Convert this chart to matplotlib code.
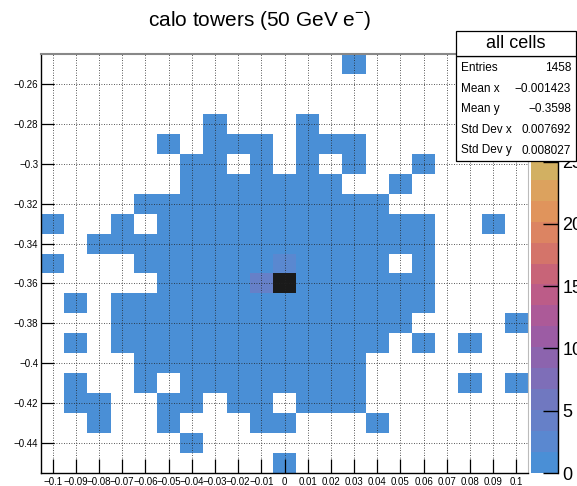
import numpy as np
import matplotlib
matplotlib.use("Agg")
import matplotlib.pyplot as plt
from matplotlib.colors import ListedColormap, BoundaryNorm
from matplotlib.patches import Rectangle

plt.rcParams['font.family'] = ['Liberation Sans', 'DejaVu Sans']
plt.rcParams['mathtext.fontset'] = 'custom'
plt.rcParams['mathtext.rm'] = 'Liberation Sans'

# tower centres (0.01 x 0.01 cells)
x_centers = np.round(np.arange(-0.10, 0.1001, 0.01), 2)
y_centers = np.round(np.arange(-0.25, -0.4501, -0.01), 2)

# hit towers, one string per row from y=-0.25 (top) down to y=-0.45,
# column 0 is x=-0.10
tower_rows = [
    ".............#.......",
    ".....................",
    ".....................",
    ".......#...#.........",
    ".....#.###.###.......",
    "......##.#.#.#..#....",
    "......#######..#.....",
    "....###########......",
    "#..#.############..#.",
    "..###############....",
    "#...###########.#....",
    ".....############....",
    ".#.##############....",
    "...#############....#",
    ".#.############.#.#..",
    "....##########.......",
    ".#..#.########....#.#",
    ".##..##.##.###.......",
    "..#..#...##...#......",
    "......#..............",
    "..........#..........",
]
hit_value = 1.0

# the few towers with larger deposits
hot_x = [0.00, 0.00, -0.01]
hot_y = [-0.36, -0.35, -0.36]
hot_val = [33.6, 3.0, 4.0]

z_max = 33.65
cbar_ticks = [0, 5, 10, 15, 20, 25]

stat_names = ["Entries", "Mean x", "Mean y", "Std Dev x", "Std Dev y"]
stat_values = ["1458", "\u22120.001423", "\u22120.3598", "0.007692", "0.008027"]

# 20 colour bands of the palette, bottom to top
band_colors = [
    "#4a8fd6", "#5a88d0", "#6680c8", "#7078c0", "#7e6eb8",
    "#8c64ae", "#9c5ca4", "#ac5a98", "#bc5c88", "#c86478",
    "#d4746a", "#dc8462", "#e0945c", "#dca25e", "#d2b062",
    "#c8ba66", "#b8b86a", "#a0a868", "#788058", "#1a1a1a",
]

# ---- build the histogram ----
z = np.array([[hit_value if c == "#" else 0.0 for c in row] for row in tower_rows])
for hx, hy, hv in zip(hot_x, hot_y, hot_val):
    i = int(np.argmin(np.abs(x_centers - hx)))
    j = int(np.argmin(np.abs(y_centers - hy)))
    z[j, i] = hv
z = np.ma.masked_equal(z, 0)

x_edges = np.append(x_centers - 0.005, x_centers[-1] + 0.005)
y_edges = np.append(y_centers + 0.005, y_centers[-1] - 0.005)

levels = np.linspace(0, z_max, len(band_colors) + 1)
cmap = ListedColormap(band_colors)
norm = BoundaryNorm(levels, cmap.N, clip=True)

W, H = 577, 486
fig = plt.figure(figsize=(W / 100, H / 100), dpi=100)
ax = fig.add_axes([41 / W, 13 / H, 487 / W, 419 / H])
cax = fig.add_axes([531 / W, 13 / H, 27 / W, 419 / H])

ax.pcolormesh(x_edges, y_edges, z, cmap=cmap, norm=norm, zorder=1)
ax.set_xlim(x_edges[0], x_edges[-1])
ax.set_ylim(y_edges[-1], y_edges[0])

ax.set_xticks(x_centers)
ax.set_xticklabels([f"{v + 0.0:g}".replace("-", "\u2212") for v in x_centers])
y_ticks = np.round(np.arange(-0.26, -0.4401, -0.02), 2)
ax.set_yticks(y_ticks)
ax.set_yticklabels([f"{v:g}".replace("-", "\u2212") for v in y_ticks])
ax.tick_params(axis='x', direction='in', length=10, width=0.9, labelsize=7, pad=3)
ax.tick_params(axis='y', direction='in', length=9, width=0.9, labelsize=7, pad=2)

ax.set_axisbelow(False)
ax.grid(True, color='#222222', linestyle=(0, (1, 2)), linewidth=0.6)
for side in ['left', 'bottom']:
    ax.spines[side].set_color('black')
    ax.spines[side].set_linewidth(1.0)
ax.spines['top'].set_color('#888888')
ax.spines['top'].set_linewidth(1.5)
ax.spines['right'].set_color('#bbbbbb')
ax.spines['right'].set_linewidth(0.8)

# ---- colour scale ----
band_mid = (levels[:-1] + levels[1:]) / 2
cax.pcolormesh([0, 1], levels, band_mid[:, None], cmap=cmap, norm=norm)
cax.set_xlim(0, 1)
cax.set_ylim(0, z_max)
cax.set_xticks([])
cax.yaxis.tick_right()
cax.set_yticks(cbar_ticks)
cax.tick_params(axis='y', direction='in', length=11, width=1.0, labelsize=13, pad=3)
for side in ['left', 'top', 'bottom']:
    cax.spines[side].set_visible(False)
cax.spines['right'].set_linewidth(1.0)

# ---- title ----
fig.text(260 / W, 1 - 21 / H, r"calo towers (50 GeV e$^{\mathrm{-}}$)", ha='center',
         va='center', fontsize=15)

# ---- stats box ----
def fx(px):
    return px / W

def fy(py):
    return 1 - py / H

box_l, box_r = 455.5, 576
fig.patches.append(Rectangle((fx(box_l), fy(161)), fx(box_r) - fx(box_l), fy(56) - fy(161),
                             transform=fig.transFigure, facecolor='white',
                             edgecolor='black', linewidth=0.9, zorder=5))
fig.patches.append(Rectangle((fx(box_l), fy(56)), fx(box_r) - fx(box_l), fy(31) - fy(56),
                             transform=fig.transFigure, facecolor='white',
                             edgecolor='black', linewidth=0.9, zorder=5))
fig.text(fx(516), fy(44), "all cells", ha='center', va='center', fontsize=13, zorder=6)
row_y = [68, 88.5, 109, 130, 150.5]
for name, val, yy in zip(stat_names, stat_values, row_y):
    fig.text(fx(461), fy(yy), name, ha='left', va='center', fontsize=8.5, zorder=6)
    fig.text(fx(571), fy(yy), val, ha='right', va='center', fontsize=8.5, zorder=6)

fig.savefig("out.png", dpi=100)
